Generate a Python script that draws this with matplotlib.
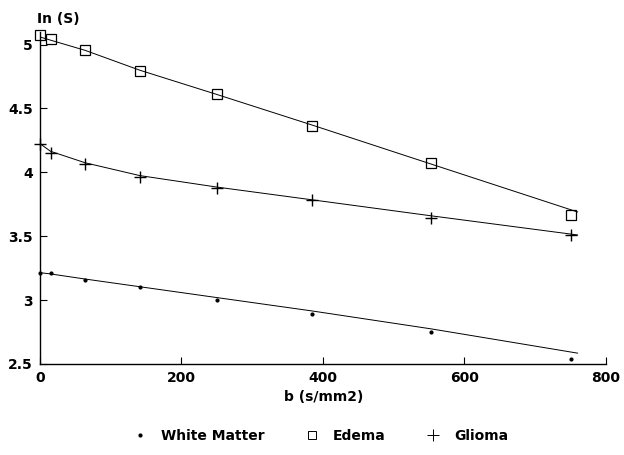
import matplotlib.pyplot as plt
from matplotlib.lines import Line2D

# valores
b_valores = [0, 15, 64, 141, 250, 385, 553, 751]

materia_blanca = [3.21, 3.215, 3.155, 3.10, 3.00, 2.895, 2.75, 2.54]
edema = [5.078, 5.045, 4.955, 4.795, 4.615, 4.36, 4.07, 3.665]
glioma = [4.225, 4.15, 4.068, 3.963, 3.88, 3.78, 3.645, 3.506]

# curvas ajustadas
b_ajuste = [0, 15, 64, 141, 250, 385, 553, 760]
ajuste_blanca = [3.215, 3.205, 3.165, 3.105, 3.02, 2.915, 2.775, 2.585]
ajuste_edema = [5.06, 5.035, 4.955, 4.80, 4.61, 4.37, 4.065, 3.69]
ajuste_glioma = [4.225, 4.165, 4.075, 3.975, 3.885, 3.785, 3.66, 3.51]

plt.rcParams['font.family'] = ['DejaVu Sans']
tam = 10

fig = plt.figure(figsize=(6.24, 4.55), dpi=100)
ax = fig.add_axes([0.064, 0.2, 0.907, 0.73])

# lineas de ajuste
ax.plot(b_ajuste, ajuste_edema, color='black', lw=0.7)
ax.plot(b_ajuste, ajuste_glioma, color='black', lw=0.7)
ax.plot(b_ajuste, ajuste_blanca, color='black', lw=0.7)

# puntos medidos
ax.plot(b_valores, materia_blanca, 'o', color='black', markersize=2.0, clip_on=False)
ax.plot(b_valores, edema, 's', markerfacecolor='none', markeredgecolor='black',
        markersize=6.8, markeredgewidth=0.9, clip_on=False)
ax.plot(b_valores, glioma, '+', color='black', markersize=9, markeredgewidth=1.0, clip_on=False)

ax.set_xlim(0, 800)
ax.set_ylim(2.5, 5.1)
ax.set_xticks([0, 200, 400, 600, 800])
ax.set_yticks([2.5, 3, 3.5, 4, 4.5, 5])
ax.set_yticklabels(['2.5', '3', '3.5', '4', '4.5', '5'])
ax.tick_params(direction='in', length=5, width=0.8, labelsize=tam, pad=5)
for lab in ax.get_xticklabels() + ax.get_yticklabels():
    lab.set_fontweight('bold')

ax.spines['top'].set_visible(False)
ax.spines['right'].set_visible(False)
ax.spines['left'].set_linewidth(1.0)
ax.spines['bottom'].set_linewidth(1.0)

fig.text(0.093, 0.958, 'In (S)', ha='center', va='center', fontsize=tam, fontweight='bold')
fig.text(0.518, 0.127, 'b (s/mm2)', ha='center', va='center', fontsize=tam, fontweight='bold')

# leyenda
manejadores = [
    Line2D([], [], ls='none', marker='o', color='black', markersize=2),
    Line2D([], [], ls='none', marker='s', markerfacecolor='none', markeredgecolor='black',
           markersize=5.5, markeredgewidth=0.7),
    Line2D([], [], ls='none', marker='+', color='black', markersize=9, markeredgewidth=0.7),
]
etiquetas = ['White Matter', 'Edema', 'Glioma']
fig.legend(manejadores, etiquetas, loc='center', bbox_to_anchor=(0.514, 0.042), ncol=3,
           frameon=False, prop={'size': tam, 'weight': 'bold'}, columnspacing=2.9,
           handletextpad=1.0, handlelength=1.0)

fig.savefig('out.png', dpi=100)
